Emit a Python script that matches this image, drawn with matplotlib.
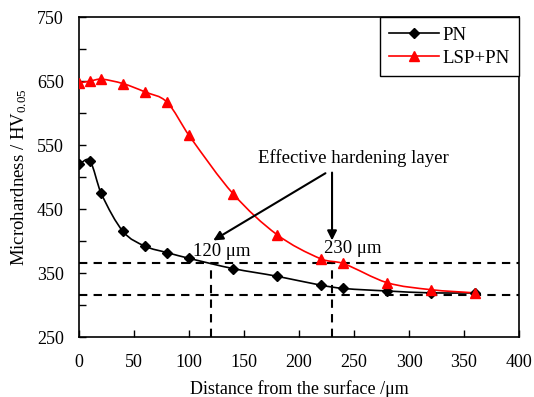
import numpy as np
import matplotlib
matplotlib.use("Agg")
import matplotlib.pyplot as plt
from matplotlib.path import Path
from matplotlib.patches import PathPatch
from matplotlib.ticker import FixedLocator

plt.rcParams['font.family'] = ['Liberation Serif', 'DejaVu Serif']
plt.rcParams['mathtext.fontset'] = 'custom'
plt.rcParams['mathtext.rm'] = 'Liberation Serif'
plt.rcParams['mathtext.it'] = 'Liberation Serif:italic'

depth = [0, 10, 20, 40, 60, 80, 100, 140, 180, 220, 240, 280, 320, 360]
pn = [520, 525, 475, 415, 392, 382, 373, 357, 345, 331, 326, 322, 319, 319]
lsp_pn = [647, 650, 653, 646, 633, 617, 565, 474, 410, 372, 365, 335, 324, 319]
h_levels = [366, 316]
v_depths = [120, 230]
x_ticks = [0, 50, 100, 150, 200, 250, 300, 350, 400]
y_ticks = [250, 350, 450, 550, 650, 750]
y_minor = [300, 400, 500, 600, 700]


def smooth_path(x, y):
    x = np.asarray(x, float)
    y = np.asarray(y, float)
    n = len(x)
    m = np.zeros(n)
    for i in range(n):
        if i == 0:
            m[i] = (y[1] - y[0]) / (x[1] - x[0])
        elif i == n - 1:
            m[i] = (y[-1] - y[-2]) / (x[-1] - x[-2])
        else:
            m[i] = (y[i + 1] - y[i - 1]) / (x[i + 1] - x[i - 1])
    verts = [(x[0], y[0])]
    codes = [Path.MOVETO]
    for i in range(n - 1):
        h = x[i + 1] - x[i]
        verts += [(x[i] + h / 3, y[i] + m[i] * h / 3),
                  (x[i + 1] - h / 3, y[i + 1] - m[i + 1] * h / 3),
                  (x[i + 1], y[i + 1])]
        codes += [Path.CURVE4] * 3
    return Path(verts, codes)


fig = plt.figure(figsize=(5.34, 3.97), dpi=100)
ax = fig.add_axes([0.148, 0.151, 0.824, 0.806])

for ys, col, mk, ms, lab in [(pn, 'black', 'D', 5, 'PN'), (lsp_pn, 'red', '^', 7, 'LSP+PN')]:
    ax.add_patch(PathPatch(smooth_path(depth, ys), facecolor='none', edgecolor=col, lw=1.2, zorder=3))
    ax.plot(depth, ys, linestyle='none', marker=mk, color=col, ms=ms, zorder=4)
    ax.plot([], [], color=col, marker=mk, ms=ms, lw=1.2, label=lab)

for h in h_levels:
    ax.axhline(h, color='black', ls=(0, (4, 3)), lw=1.5, zorder=2)
for v in v_depths:
    ax.plot([v, v], [250, h_levels[0]], color='black', ls=(0, (4, 3)), lw=1.5, zorder=2)

ax.text(249, 530, 'Effective hardening layer', ha='center', va='center', fontsize=13.5)
ax.annotate('', xy=(122, 401), xytext=(224, 506),
            arrowprops=dict(arrowstyle='-|>', color='black', lw=1.5, mutation_scale=14, shrinkA=0, shrinkB=0))
ax.annotate('', xy=(230, 401), xytext=(230, 507),
            arrowprops=dict(arrowstyle='-|>', color='black', lw=1.5, mutation_scale=14, shrinkA=0, shrinkB=0))
ax.text(130, 384, '120 μm', ha='center', va='center', fontsize=13.5)
ax.text(249, 388, '230 μm', ha='center', va='center', fontsize=13.5)

ax.set_xlim(0, 400)
ax.set_ylim(250, 750)
ax.xaxis.set_major_locator(FixedLocator(x_ticks))
ax.yaxis.set_major_locator(FixedLocator(y_ticks))
ax.yaxis.set_minor_locator(FixedLocator(y_minor))
ax.tick_params(which='both', direction='in', labelsize=13, length=5, width=1)
ax.tick_params(axis='x', pad=12)
ax.tick_params(axis='y', pad=11)
for s in ax.spines.values():
    s.set_linewidth(1.2)
ax.set_xlabel('Distance from the surface /μm', fontsize=13, labelpad=7)
ax.set_ylabel('Microhardness / HV$_{0.05}$', fontsize=13.5, labelpad=6)

leg = ax.legend(loc='upper right', borderaxespad=0, fontsize=13.5, fancybox=False,
                edgecolor='black', framealpha=1, handlelength=2.65, handletextpad=0.2,
                borderpad=0.5, labelspacing=0.33)
leg.get_frame().set_linewidth(1.0)

fig.savefig('out.png', dpi=100)
